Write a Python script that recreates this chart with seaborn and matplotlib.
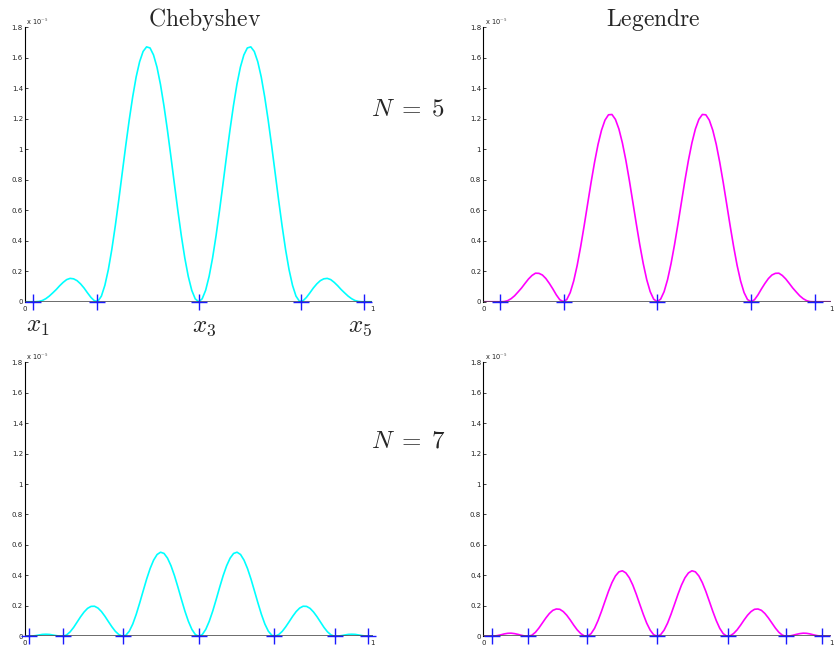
import numpy as np
import matplotlib
matplotlib.use("Agg")
import matplotlib.pyplot as plt
import seaborn as sns

# sample grid on [0, 1]; curve values are in units of 1e-5
x_grid = np.linspace(0, 1, 101)

cheb5 = [0, 0, 0, 0, 0.002, 0.008, 0.02, 0.037, 0.058, 0.08,
         0.105, 0.127, 0.145, 0.153, 0.15, 0.138, 0.117, 0.09, 0.058, 0.028,
         0.006, 0.003, 0.037, 0.108, 0.211, 0.343, 0.498, 0.667, 0.845, 1.022,
         1.19, 1.342, 1.473, 1.573, 1.64, 1.67, 1.663, 1.617, 1.537, 1.424,
         1.284, 1.125, 0.952, 0.773, 0.598, 0.433, 0.287, 0.166, 0.075, 0.019,
         0,
         0.019, 0.075, 0.166, 0.287, 0.433, 0.598, 0.773, 0.952, 1.125, 1.284,
         1.424, 1.537, 1.617, 1.663, 1.67, 1.64, 1.573, 1.473, 1.342, 1.19,
         1.022, 0.845, 0.667, 0.498, 0.343, 0.211, 0.108, 0.037, 0.003, 0.006,
         0.028, 0.058, 0.09, 0.117, 0.138, 0.15, 0.153, 0.145, 0.127, 0.105,
         0.08, 0.058, 0.037, 0.02, 0.008, 0.002, 0, 0, 0, 0]

leg5 = [0, 0, 0, 0, 0, 0, 0.001, 0.007, 0.02, 0.039,
        0.064, 0.09, 0.12, 0.149, 0.172, 0.187, 0.186, 0.175, 0.152, 0.12,
        0.084, 0.045, 0.013, 0.001, 0.014, 0.06, 0.136, 0.238, 0.361, 0.497,
        0.64, 0.782, 0.914, 1.031, 1.124, 1.19, 1.225, 1.227, 1.195, 1.132,
        1.041, 0.927, 0.796, 0.654, 0.511, 0.374, 0.25, 0.145, 0.066, 0.017,
        0,
        0.017, 0.066, 0.145, 0.25, 0.374, 0.511, 0.654, 0.796, 0.927, 1.041,
        1.132, 1.195, 1.227, 1.225, 1.19, 1.124, 1.031, 0.914, 0.782, 0.64,
        0.497, 0.361, 0.238, 0.136, 0.06, 0.014, 0.001, 0.013, 0.045, 0.084,
        0.12, 0.152, 0.175, 0.186, 0.187, 0.172, 0.149, 0.12, 0.09, 0.064,
        0.039, 0.02, 0.007, 0.001, 0, 0, 0, 0, 0, 0]

cheb7 = [0, 0, 0.001, 0.004, 0.008, 0.012, 0.013, 0.012, 0.008, 0.004,
         0.001, 0, 0.009, 0.029, 0.058, 0.093, 0.128, 0.159, 0.183, 0.196,
         0.197, 0.185, 0.162, 0.131, 0.096, 0.062, 0.032, 0.011, 0.001, 0.006,
         0.033, 0.08, 0.144, 0.219, 0.298, 0.376, 0.445, 0.5, 0.537, 0.552,
         0.544, 0.513, 0.463, 0.398, 0.322, 0.242, 0.165, 0.098, 0.045, 0.011,
         0,
         0.011, 0.045, 0.098, 0.165, 0.242, 0.322, 0.398, 0.463, 0.513, 0.544,
         0.552, 0.537, 0.5, 0.445, 0.376, 0.298, 0.219, 0.144, 0.08, 0.033,
         0.006, 0.001, 0.011, 0.032, 0.062, 0.096, 0.131, 0.162, 0.185, 0.197,
         0.196, 0.183, 0.159, 0.128, 0.093, 0.058, 0.029, 0.009, 0, 0.001,
         0.004, 0.008, 0.012, 0.013, 0.012, 0.008, 0.004, 0.001, 0, 0]

leg7 = [0, 0, 0, 0.001, 0.004, 0.009, 0.015, 0.019, 0.02, 0.017,
        0.012, 0.006, 0.001, 0, 0.007, 0.026, 0.054, 0.087, 0.12, 0.149,
        0.17, 0.179, 0.177, 0.162, 0.138, 0.107, 0.073, 0.042, 0.018, 0.003,
        0.001, 0.017, 0.052, 0.103, 0.164, 0.23, 0.295, 0.352, 0.396, 0.423,
        0.43, 0.416, 0.384, 0.336, 0.276, 0.21, 0.145, 0.086, 0.04, 0.01,
        0,
        0.01, 0.04, 0.086, 0.145, 0.21, 0.276, 0.336, 0.384, 0.416, 0.43,
        0.423, 0.396, 0.352, 0.295, 0.23, 0.164, 0.103, 0.052, 0.017, 0.001,
        0.003, 0.018, 0.042, 0.073, 0.107, 0.138, 0.162, 0.177, 0.179, 0.17,
        0.149, 0.12, 0.087, 0.054, 0.026, 0.007, 0, 0.001, 0.006, 0.012,
        0.017, 0.02, 0.019, 0.015, 0.009, 0.004, 0.001, 0, 0, 0]

# interpolation nodes
nodes_cheb5 = [0.024, 0.206, 0.5, 0.794, 0.976]
nodes_leg5 = [0.047, 0.231, 0.5, 0.769, 0.953]
nodes_cheb7 = [0.0125, 0.109, 0.283, 0.5, 0.717, 0.891, 0.9875]
nodes_leg7 = [0.025, 0.129, 0.297, 0.5, 0.703, 0.871, 0.975]

y_ticks = [0, 0.2, 0.4, 0.6, 0.8, 1, 1.2, 1.4, 1.6, 1.8]

sns.set_style("white")
plt.rcParams["mathtext.fontset"] = "cm"
plt.rcParams["font.family"] = ["DejaVu Sans"]

fig = plt.figure(figsize=(8.35, 6.5), dpi=100)

panels = [
    ([0.0299, 0.5358, 0.4161, 0.4226], cheb5, nodes_cheb5, "#00ffff"),
    ([0.5788, 0.5358, 0.4164, 0.4226], leg5, nodes_leg5, "#ff00ff"),
    ([0.0299, 0.0212, 0.4164, 0.4214], cheb7, nodes_cheb7, "#00ffff"),
    ([0.5788, 0.0212, 0.4164, 0.4214], leg7, nodes_leg7, "#ff00ff"),
]

for rect, vals, nodes, col in panels:
    ax = fig.add_axes(rect)
    sns.lineplot(x=x_grid, y=vals, ax=ax, color=col, linewidth=1.2, zorder=2)
    ax.plot([0, 1], [0, 0], color="#444444", linewidth=1.1, zorder=3)
    ax.plot(nodes, [0] * len(nodes), "+", color="#1a1aff", markersize=11.5,
            markeredgewidth=1.0, zorder=4, clip_on=False)
    ax.set_xlim(0, 1)
    ax.set_ylim(0, 1.8)
    ax.set_yticks(y_ticks)
    ax.set_yticklabels(["%g" % t for t in y_ticks])
    ax.set_xticks([0, 1])
    ax.set_xticklabels(["0", "1"])
    ax.set_xlabel("")
    ax.set_ylabel("")
    for s in ["top", "right", "bottom"]:
        ax.spines[s].set_visible(False)
    ax.spines["left"].set_color("black")
    ax.spines["left"].set_linewidth(0.8)
    ax.tick_params(axis="y", direction="in", length=2.5, width=0.6,
                   labelsize=5, pad=1.5, colors="#222222", left=True)
    ax.tick_params(axis="x", length=0, labelsize=5, pad=3.0, colors="#222222")
    ax.text(0.004, 1.0, r"x 10$^{-5}$", transform=ax.transAxes, fontsize=4.8,
            va="bottom", ha="left", color="#222222")

fig.text(205 / 835, 0.96, r"$\mathrm{Chebyshev}$", fontsize=17, ha="center", va="baseline")
fig.text(653 / 835, 0.96, r"$\mathrm{Legendre}$", fontsize=17, ha="center", va="baseline")
fig.text(408 / 835, 0.823, r"$N\;=\;5$", fontsize=18, ha="center", va="baseline")
fig.text(408 / 835, 0.311, r"$N\;=\;7$", fontsize=18, ha="center", va="baseline")
fig.text(38 / 835, 0.489, r"$x_1$", fontsize=18, ha="center", va="baseline")
fig.text(204 / 835, 0.489, r"$x_3$", fontsize=18, ha="center", va="baseline")
fig.text(360 / 835, 0.489, r"$x_5$", fontsize=18, ha="center", va="baseline")

fig.savefig("out.png", dpi=100)
